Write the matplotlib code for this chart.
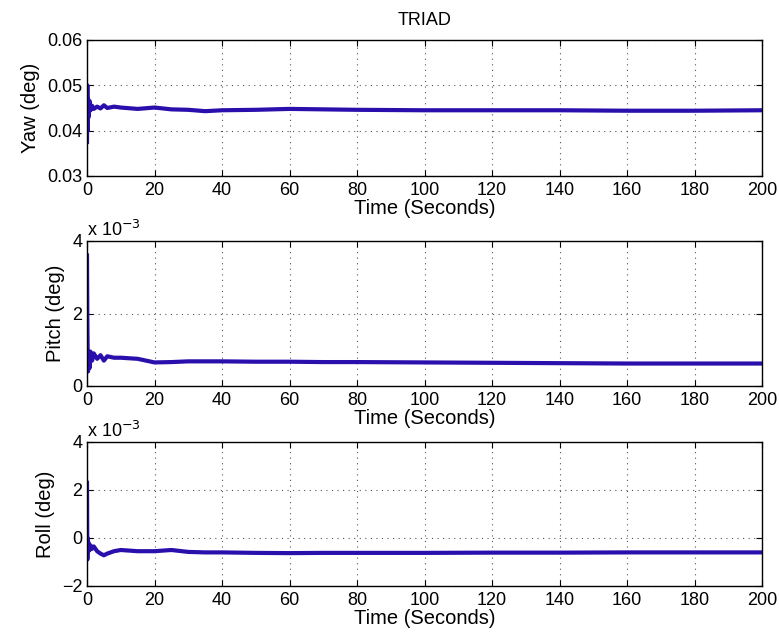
import matplotlib
matplotlib.use("Agg")
import matplotlib.pyplot as plt

plt.rcParams['font.family'] = ['Liberation Sans', 'DejaVu Sans']

# time stamps (s) and estimated attitude errors
t = [0, 0.1, 0.2, 0.3, 0.5, 0.8, 1.0, 1.5, 2, 3, 4, 5, 6, 8, 10, 15, 20, 25,
     30, 35, 40, 50, 60, 70, 80, 100, 120, 140, 160, 180, 200]

yaw = [0.0375, 0.0500, 0.0400, 0.0470, 0.0430, 0.0465, 0.0445, 0.0455, 0.0448,
       0.0453, 0.0449, 0.0456, 0.0450, 0.0453, 0.0451, 0.0448, 0.0451, 0.0447,
       0.0446, 0.0443, 0.0445, 0.0446, 0.0448, 0.0447, 0.0446, 0.0445, 0.0445,
       0.0445, 0.0444, 0.0444, 0.0445]

# pitch and roll in units of 1e-3 deg
pitch = [3.6, 1.8, 0.9, 0.4, 0.9, 0.5, 0.95, 0.7, 0.9, 0.75, 0.85, 0.7, 0.82,
         0.78, 0.78, 0.75, 0.65, 0.66, 0.68, 0.68, 0.68, 0.67, 0.67, 0.66,
         0.66, 0.65, 0.64, 0.63, 0.62, 0.62, 0.62]

roll = [2.3, -0.9, 0.0, -0.6, -0.2, -0.5, -0.3, -0.45, -0.35, -0.55, -0.65,
        -0.72, -0.65, -0.55, -0.5, -0.55, -0.55, -0.5, -0.58, -0.6, -0.6,
        -0.62, -0.63, -0.62, -0.62, -0.62, -0.61, -0.61, -0.6, -0.6, -0.6]

xticks = list(range(0, 201, 20))
color = '#2b0fad'

fig = plt.figure(figsize=(7.79, 6.37), dpi=100)

W, H = 779, 637
left, right = 87, 762
boxes = [(40, 176), (241, 386), (442, 586)]
series = [(yaw, 'Yaw (deg)', (0.03, 0.06), [0.03, 0.04, 0.05, 0.06], None),
          (pitch, 'Pitch (deg)', (0, 4), [0, 2, 4], 'x 10$^{-3}$'),
          (roll, 'Roll (deg)', (-2, 4), [-2, 0, 2, 4], 'x 10$^{-3}$')]

for (top, bot), (vals, lab, ylim, yt, offs) in zip(boxes, series):
    ax = fig.add_axes([left / W, 1 - bot / H, (right - left) / W, (bot - top) / H])
    ax.plot(t, vals, color=color, lw=3)
    ax.set_xlim(0, 200)
    ax.set_ylim(*ylim)
    ax.set_xticks(xticks)
    ax.set_yticks(yt)
    if lab.startswith('Yaw'):
        ax.set_yticklabels(['0.03', '0.04', '0.05', '0.06'])
    ax.tick_params(direction='in', labelsize=13, length=4, top=True, right=True)
    ax.tick_params(axis='x', pad=4)
    ax.tick_params(axis='y', pad=3.5)
    ax.grid(True, linestyle=(0, (1, 4)), color='#555555', lw=0.8)
    ax.set_xlabel('Time (Seconds)', fontsize=14.5, labelpad=0.5)
    ax.set_ylabel(lab, fontsize=14.5, labelpad=5)
    for s in ax.spines.values():
        s.set_linewidth(1.0)
    if offs:
        ax.text(0, 1.005, offs, transform=ax.transAxes, fontsize=13, va='bottom', ha='left')
    if lab.startswith('Yaw'):
        ax.set_title('TRIAD', fontsize=13, pad=11)

fig.savefig('out.png', dpi=100)
